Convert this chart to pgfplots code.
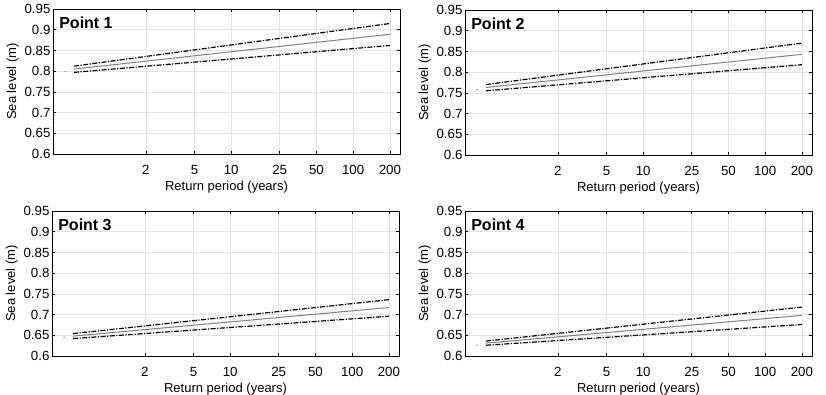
\documentclass[border=0pt]{standalone}
\usepackage{fontspec}
\setmainfont{Liberation Sans}
\usepackage{pgfplots}
\pgfplotsset{compat=1.18}
\pgfplotsset{every axis/.append style={
    scale only axis,
    width=347pt, height=145pt,
    xmin=0.346, xmax=242,
    ymin=0.6, ymax=0.95,
    xtick={2,5,10,25,50,100,200},
    xticklabels={2,5,10,25,50,100,200},
    ytick={0.6,0.65,0.7,0.75,0.8,0.85,0.9,0.95},
    yticklabels={0.6,0.65,0.7,0.75,0.8,0.85,0.9,0.95},
    grid=major,
    major grid style={gray!22, line width=0.6pt},
    tick align=inside,
    major tick length=3pt,
    tick style={black, line width=0.6pt},
    axis line style={black, line width=0.8pt},
    ticklabel style={font=\fontsize{13.3}{15}\selectfont},
    xticklabel style={yshift=-8pt},
    yticklabel style={xshift=1pt},
    label style={font=\fontsize{13}{15}\selectfont},
    xlabel={Return period (years)},
    ylabel={Sea level (m)},
    xlabel style={yshift=1pt},
    ylabel style={yshift=-1pt},
    title style={at={(axis description cs:0.008,0.931)}, anchor=north west, font=\bfseries\fontsize{16}{18}\selectfont},
}}
\tikzset{
  myci/.style={black, line width=1.2pt, dash pattern=on 5pt off 1.5pt on 1.2pt off 1.5pt},
  mymid/.style={black!50, line width=1.0pt},
}
\begin{document}
\begin{tikzpicture}
\useasboundingbox (0,0) rectangle (826pt,395pt);
% Point 1
\begin{semilogxaxis}[anchor=south west, at={(53pt,241pt)}, title={Point 1}]
\addplot[myci] coordinates {(0.515,0.812) (200,0.915)};
\addplot[mymid] coordinates {(0.515,0.805) (200,0.889)};
\addplot[myci] coordinates {(0.515,0.797) (200,0.862)};
\addplot[only marks, mark=*, mark size=0.5pt, gray] coordinates {(0.435,0.799)};
\end{semilogxaxis}
% Point 2
\begin{semilogxaxis}[anchor=south west, at={(465pt,240pt)}, title={Point 2}]
\addplot[myci] coordinates {(0.515,0.770) (200,0.870)};
\addplot[mymid] coordinates {(0.515,0.763) (200,0.843)};
\addplot[myci] coordinates {(0.515,0.755) (200,0.818)};
\addplot[only marks, mark=*, mark size=0.5pt, gray] coordinates {(0.435,0.758)};
\end{semilogxaxis}
% Point 3
\begin{semilogxaxis}[anchor=south west, at={(52pt,39pt)}, title={Point 3}]
\addplot[myci] coordinates {(0.515,0.654) (200,0.736)};
\addplot[mymid] coordinates {(0.515,0.648) (200,0.717)};
\addplot[myci] coordinates {(0.515,0.642) (200,0.696)};
\addplot[only marks, mark=*, mark size=0.5pt, gray] coordinates {(0.435,0.645)};
\end{semilogxaxis}
% Point 4
\begin{semilogxaxis}[anchor=south west, at={(465pt,39pt)}, title={Point 4}]
\addplot[myci] coordinates {(0.515,0.636) (200,0.718)};
\addplot[mymid] coordinates {(0.515,0.631) (200,0.698)};
\addplot[myci] coordinates {(0.515,0.626) (200,0.676)};
\addplot[only marks, mark=*, mark size=0.5pt, gray] coordinates {(0.435,0.626)};
\end{semilogxaxis}
\end{tikzpicture}
\end{document}
